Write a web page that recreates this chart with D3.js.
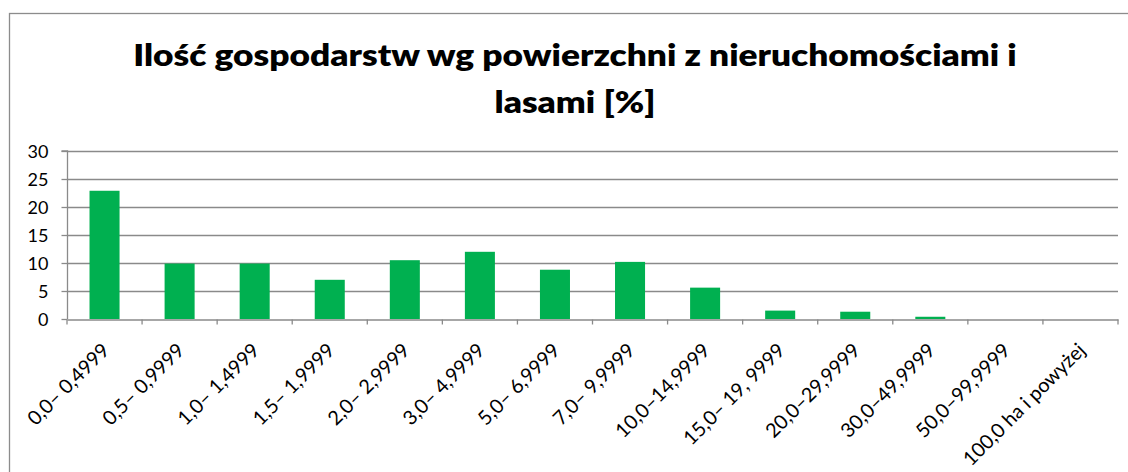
<!DOCTYPE html>
<html><head><meta charset="utf-8">
<script src="https://cdn.jsdelivr.net/npm/d3@7"></script>
<style>
html,body{margin:0;padding:0;background:#fff;}
svg{display:block;}
text{font-family:Lato,"Open Sans",sans-serif;fill:#000;}
</style></head>
<body>
<svg id="chart" width="1128" height="472"></svg>
<script>
const titleLines = ["Ilość gospodarstw wg powierzchni z nieruchomościami i", "lasami [%]"];
const categories = ["0,0– 0,4999","0,5– 0,9999","1,0– 1,4999","1,5– 1,9999","2,0– 2,9999","3,0– 4,9999","5,0– 6,9999","7,0– 9,9999","10,0–14,9999","15,0– 19, 9999","20,0–29,9999","30,0–49,9999","50,0–99,9999","100,0 ha i powyżej"];
const values = [22.9, 9.9, 9.9, 7.0, 10.5, 12.0, 8.8, 10.2, 5.6, 1.5, 1.3, 0.4, 0, 0];
const yTicks = [0, 5, 10, 15, 20, 25, 30];

const svg = d3.select("#chart");
const m = {left: 67, right: 1118, top: 151, bottom: 319};

// chart border
svg.append("rect").attr("x", 9.5).attr("y", 13.5).attr("width", 1140).attr("height", 480)
  .attr("fill", "none").attr("stroke", "#8c8c8c").attr("stroke-width", 1.3);

// title
const tg = svg.append("g");
const baselines = [66, 113];
const cx = 575;
const t1 = tg.append("text").attr("x", cx).attr("y", baselines[0]).attr("text-anchor", "middle")
  .style("font-weight", 800).style("font-size", "31px").text(titleLines[0]);
const w1 = t1.node().getComputedTextLength();
const sx = 884 / w1;
tg.attr("transform", `translate(${cx},0) scale(${sx},1) translate(${-cx},0)`);
tg.append("text").attr("x", cx).attr("y", baselines[1]).attr("text-anchor", "middle")
  .style("font-weight", 800).style("font-size", "31px").text(titleLines[1]);

const x = d3.scaleBand().domain(categories).range([m.left, m.right]).paddingInner(0.6).paddingOuter(0.3);
const xb = d3.scaleBand().domain(categories).range([m.left, m.right]);
const y = d3.scaleLinear().domain([0, 30]).range([m.bottom, m.top]);

// gridlines
svg.append("g").selectAll("line").data(yTicks.filter(d => d > 0)).join("line")
  .attr("x1", m.left).attr("x2", m.right)
  .attr("y1", d => Math.round(y(d)) + 0.5).attr("y2", d => Math.round(y(d)) + 0.5)
  .attr("stroke", "#8a8a8a").attr("stroke-width", 1.3);

// bars
svg.append("g").selectAll("rect").data(values).join("rect")
  .attr("x", (d, i) => x(categories[i]))
  .attr("width", x.bandwidth())
  .attr("y", d => y(d))
  .attr("height", d => y(0) - y(d))
  .attr("fill", "#00b050");

// y axis
const yAxis = d3.axisLeft(y).tickValues(yTicks).tickSize(6).tickPadding(10).tickFormat(d3.format("d"));
const ya = svg.append("g").attr("transform", `translate(${m.left + 0.5},0)`).call(yAxis);
ya.select(".domain").attr("stroke", "#8a8a8a").attr("stroke-width", 1.3).attr("d", `M-6,${m.top}H0V${m.bottom}`);
ya.selectAll(".tick line").attr("stroke", "#8a8a8a").attr("stroke-width", 1.3);
ya.selectAll(".tick text").style("font-size", "18px").style("font-family", "Lato")
  .attr("x", -19).attr("dy", "0.36em");

// x axis
const xAxis = d3.axisBottom(xb).tickSize(0).tickFormat(d => d);
const xa = svg.append("g").attr("transform", `translate(0,${Math.round(m.bottom) + 0.5})`).call(xAxis);
xa.select(".domain").attr("stroke", "#8a8a8a").attr("stroke-width", 1.6);
xa.append("g").selectAll("line").data(d3.range(categories.length + 1)).join("line")
  .attr("x1", i => m.left + i * xb.bandwidth()).attr("x2", i => m.left + i * xb.bandwidth())
  .attr("y1", 0).attr("y2", 5).attr("stroke", "#8a8a8a").attr("stroke-width", 1.3);
const xt = xa.selectAll(".tick text").style("font-family", "Lato").style("font-size", "16px");
const firstLen = xt.nodes()[0].getComputedTextLength();
const xfs = 16 * 106 / firstLen;
xt.style("font-size", xfs + "px")
  .attr("text-anchor", "end").attr("y", 0).attr("dy", "0.36em")
  .attr("transform", "translate(1,27) rotate(-45)");
</script>
</body></html>
